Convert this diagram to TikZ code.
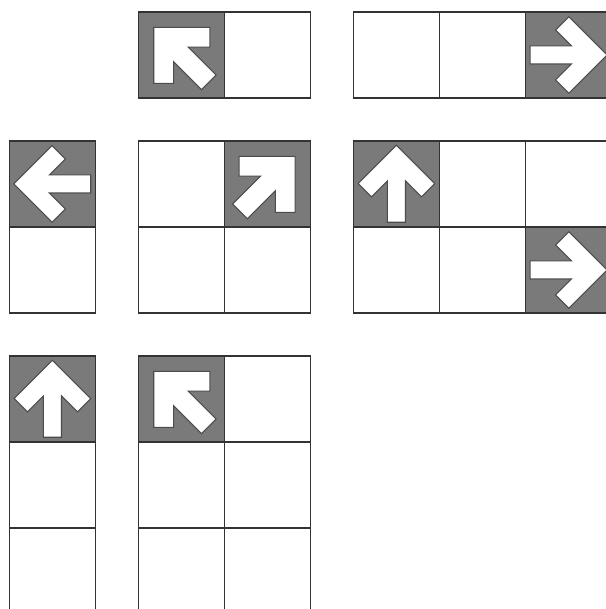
\documentclass[tikz,border=0pt]{standalone}
\definecolor{cellgray}{RGB}{122,122,122}
\tikzset{
  cellline/.style={draw=black!80, line width=0.45pt},
  darkcell/.style={fill=cellgray},
  arrowshape/.style={fill=white, draw=black!70, line width=0.35pt, line join=miter},
}
% straight arrow centred at (#1,#2), rotated by #3 (0 = up)
\newcommand\straightarrow[3]{%
  \path[arrowshape, shift={(#1,#2)}, rotate=#3]
    (0,0.45) -- (0.445,0.005) -- (0.29,-0.15) -- (0.105,0.035) -- (0.105,-0.445)
    -- (-0.105,-0.445) -- (-0.105,0.035) -- (-0.29,-0.15) -- (-0.445,0.005) -- cycle;}
% diagonal arrow centred at (#1,#2); #3 = 1 for north-west, -1 for north-east
\newcommand\diagarrow[3]{%
  \path[arrowshape, shift={(#1,#2)}, xscale=#3]
    (-0.322,0.322) -- (0.33,0.322) -- (0.33,0.092) -- (0.079,0.092) -- (0.404,-0.233)
    -- (0.233,-0.404) -- (-0.092,-0.079) -- (-0.092,-0.33) -- (-0.322,-0.33) -- cycle;}
\begin{document}
\begin{tikzpicture}
  \useasboundingbox (0,0) rectangle (7.0465,7.0814);
  \clip (0,0) rectangle (7.0465,7.0814);
  % dark cells
  \fill[darkcell] (1.61,6.942) rectangle ++(1,-1);
  \fill[darkcell] (6.11,6.942) rectangle ++(1,-1);
  \fill[darkcell] (0.11,5.442) rectangle ++(1,-1);
  \fill[darkcell] (2.61,5.442) rectangle ++(1,-1);
  \fill[darkcell] (4.11,5.442) rectangle ++(1,-1);
  \fill[darkcell] (6.11,4.442) rectangle ++(1,-1);
  \fill[darkcell] (0.11,2.942) rectangle ++(1,-1);
  \fill[darkcell] (1.61,2.942) rectangle ++(1,-1);
  % grids
  \foreach \x in {1.61,2.61} \draw[cellline] (\x,6.942) rectangle ++(1,-1);
  \foreach \x in {4.11,5.11,6.11} \draw[cellline] (\x,6.942) rectangle ++(1,-1);
  \foreach \y in {5.442,4.442} {
    \draw[cellline] (0.11,\y) rectangle ++(1,-1);
    \foreach \x in {1.61,2.61} \draw[cellline] (\x,\y) rectangle ++(1,-1);
    \foreach \x in {4.11,5.11,6.11} \draw[cellline] (\x,\y) rectangle ++(1,-1);
  }
  \foreach \y in {2.942,1.942,0.942} {
    \draw[cellline] (0.11,\y) rectangle ++(1,-1);
    \foreach \x in {1.61,2.61} \draw[cellline] (\x,\y) rectangle ++(1,-1);
  }
  % arrows
  \diagarrow{2.11}{6.442}{1}
  \straightarrow{6.61}{6.442}{-90}
  \straightarrow{0.61}{4.942}{90}
  \diagarrow{3.11}{4.942}{-1}
  \straightarrow{4.61}{4.942}{0}
  \straightarrow{6.61}{3.942}{-90}
  \straightarrow{0.61}{2.442}{0}
  \diagarrow{2.11}{2.442}{1}
\end{tikzpicture}
\end{document}
